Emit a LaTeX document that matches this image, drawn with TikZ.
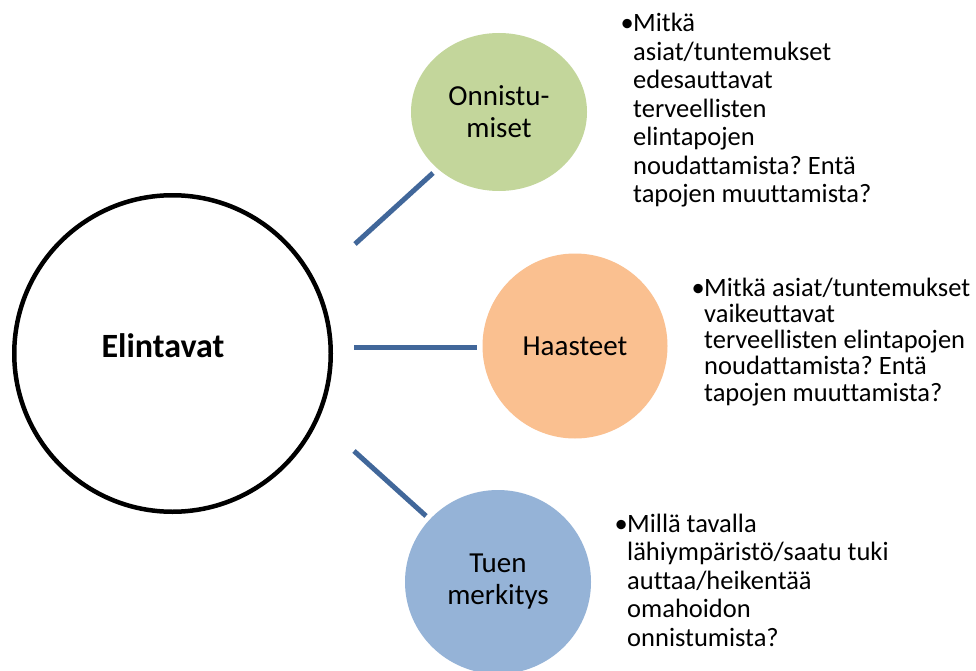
\documentclass[tikz,border=0pt]{standalone}
\usepackage{fontspec}
\setmainfont{Carlito}[Ligatures={NoCommon}]
\usetikzlibrary{shapes.geometric}
\definecolor{linec}{HTML}{41679A}
\definecolor{gfill}{HTML}{C3D69B}
\definecolor{ofill}{HTML}{FAC090}
\definecolor{bfill}{HTML}{95B3D7}
\newcommand\bulmark{\makebox[12pt][l]{\kern-0.5pt•}}
\frenchspacing
\begin{document}
\begin{tikzpicture}[x=1pt,y=-1pt,
  conn/.style={draw=linec, line width=5pt},
  bubble/.style={ellipse, inner sep=0pt, draw=none, align=center,
    font=\fontsize{29}{32}\selectfont},
  note/.style={anchor=base west, inner sep=0pt}]
\clip (0,0) rectangle (976,671);
\fill[white] (0,0) rectangle (976,671);

% central circle
\node[circle, draw=black, line width=4.5pt, minimum size=316.5pt, inner sep=0pt] (big) at (172.5,353.5) {};
\node[anchor=base, inner sep=0pt, font=\fontsize{34}{36}\selectfont\bfseries] (bigtxt) at (163,357) {Elintavat};

% satellite circles
\node[bubble, fill=gfill, minimum width=176pt, minimum height=158pt] (onn) at (499,112) {Onnistu-\\miset};
\node[bubble, fill=ofill, minimum width=185pt, minimum height=185pt] (haa) at (575,346) {Haasteet};
\node[bubble, fill=bfill, minimum width=186pt, minimum height=184pt] (tue) at (498,582) {Tuen\\merkitys};

% connectors
\coordinate (c1s) at (355,244); \coordinate (c1e) at (433,173);
\coordinate (c2s) at (354,347); \coordinate (c2e) at (477,347);
\coordinate (c3s) at (354,451); \coordinate (c3e) at (426,516);
\draw[conn] (c1s) -- (c1e);
\draw[conn] (c2s) -- (c2e);
\draw[conn] (c3s) -- (c3e);

% notes
\node[note] (n1) at (621,32) {\fontsize{26.5}{28.5}\selectfont
\begin{tabular}[t]{@{}l@{}l@{}}
\bulmark & Mitkä\\
 & asiat/tuntemukset\\
 & edesauttavat\\
 & terveellisten\\
 & elintapojen\\
 & noudattamista? Entä\\
 & tapojen muuttamista?
\end{tabular}};

\node[note] (n2) at (692,296) {\fontsize{26.5}{26.3}\selectfont
\begin{tabular}[t]{@{}l@{}l@{}}
\bulmark & Mitkä asiat/tuntemukset\\
 & vaikeuttavat\\
 & terveellisten elintapojen\\
 & noudattamista? Entä\\
 & tapojen muuttamista?
\end{tabular}};

\node[note] (n3) at (615,532) {\fontsize{26.5}{28.6}\selectfont
\begin{tabular}[t]{@{}l@{}l@{}}
\bulmark & Millä tavalla\\
 & lähiympäristö/saatu tuki\\
 & auttaa/heikentää\\
 & omahoidon\\
 & onnistumista?
\end{tabular}};
\end{tikzpicture}
\end{document}
